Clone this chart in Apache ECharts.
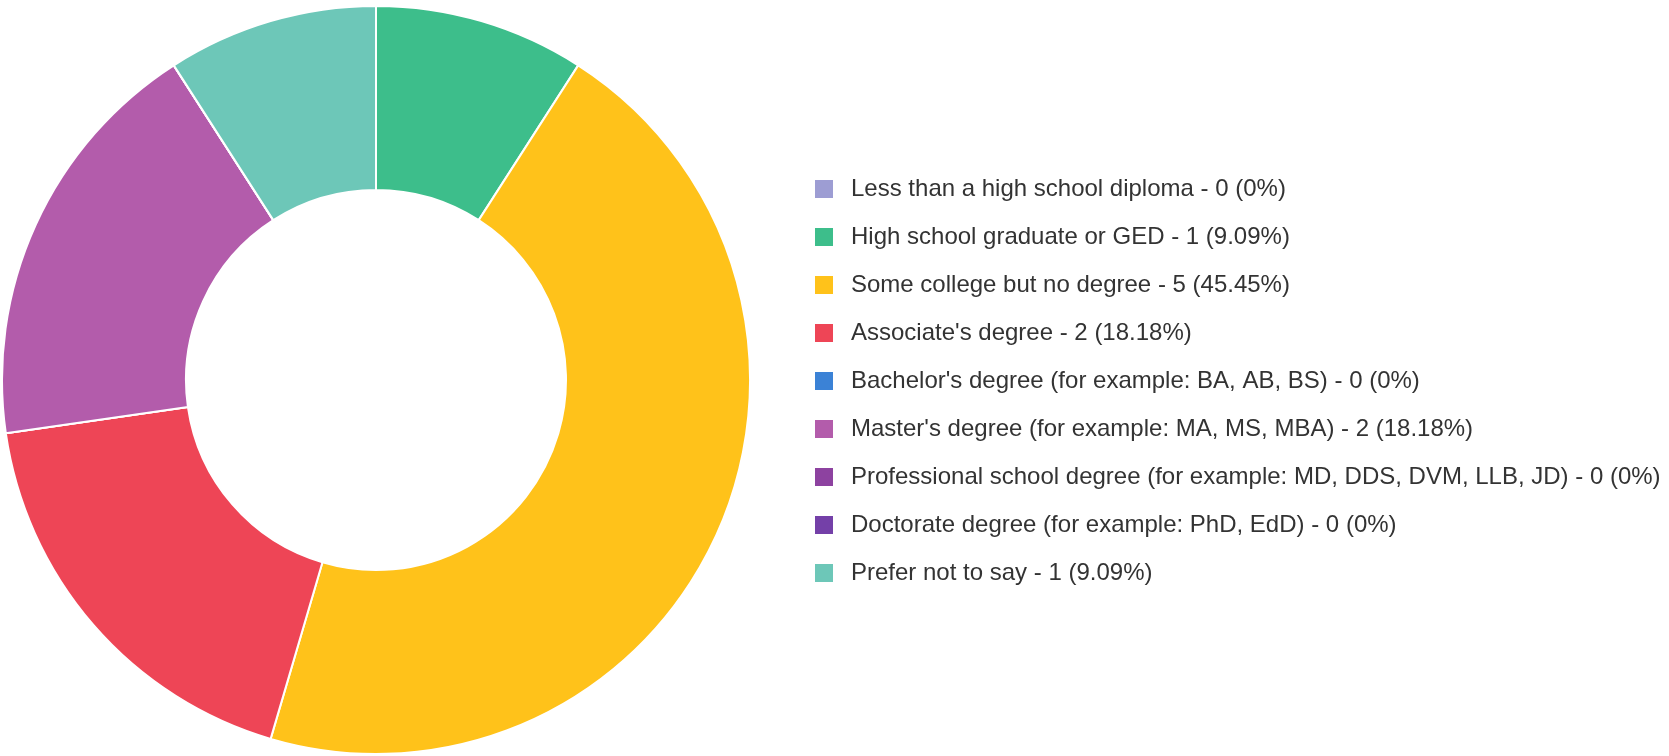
<!DOCTYPE html>
<html>
<head>
<meta charset="utf-8">
<script src="https://cdn.jsdelivr.net/npm/echarts@6/dist/echarts.min.js"></script>
<style>
html,body{margin:0;padding:0;background:#fff;}
#chart{width:1669px;height:756px;}
</style>
</head>
<body>
<div id="chart"></div>
<script>
const categories = [
  "Less than a high school diploma",
  "High school graduate or GED",
  "Some college but no degree",
  "Associate's degree",
  "Bachelor's degree (for example: BA, AB, BS)",
  "Master's degree (for example: MA, MS, MBA)",
  "Professional school degree (for example: MD, DDS, DVM, LLB, JD)",
  "Doctorate degree (for example: PhD, EdD)",
  "Prefer not to say"
];
const counts = [0, 1, 5, 2, 0, 2, 0, 0, 1];
const colors = ["#9d9dd3", "#3dbe8b", "#ffc21a", "#ee4556", "#3b82d6", "#b35cab", "#8d42a0", "#7440a8", "#6dc7b8"];

const total = counts.reduce((a, b) => a + b, 0);
function pct(v) {
  return String(parseFloat((v / total * 100).toFixed(2)));
}
const data = categories.map((n, i) => ({ name: n, value: counts[i], itemStyle: { color: colors[i] } }));

const chart = echarts.init(document.getElementById('chart'), null, { renderer: 'canvas' });
chart.setOption({
  backgroundColor: '#ffffff',
  animation: false,
  legend: {
    orient: 'vertical',
    left: 808,
    top: 171,
    icon: 'rect',
    itemWidth: 20,
    itemHeight: 20,
    itemGap: 22,
    selectedMode: false,
    textStyle: {
      fontFamily: 'Liberation Sans, Arial, sans-serif',
      fontSize: 24,
      lineHeight: 26,
      color: '#333333',
      padding: [0, 0, 0, 12]
    },
    formatter: function (name) {
      const i = categories.indexOf(name);
      return name + ' - ' + counts[i] + ' (' + pct(counts[i]) + '%)';
    },
    data: categories
  },
  series: [{
    type: 'pie',
    center: [376, 380],
    radius: [190, 374],
    startAngle: 90,
    clockwise: true,
    avoidLabelOverlap: false,
    label: { show: false },
    labelLine: { show: false },
    emphasis: { disabled: true },
    itemStyle: { borderColor: '#ffffff', borderWidth: 2 },
    data: data
  }]
});
</script>
</body>
</html>
